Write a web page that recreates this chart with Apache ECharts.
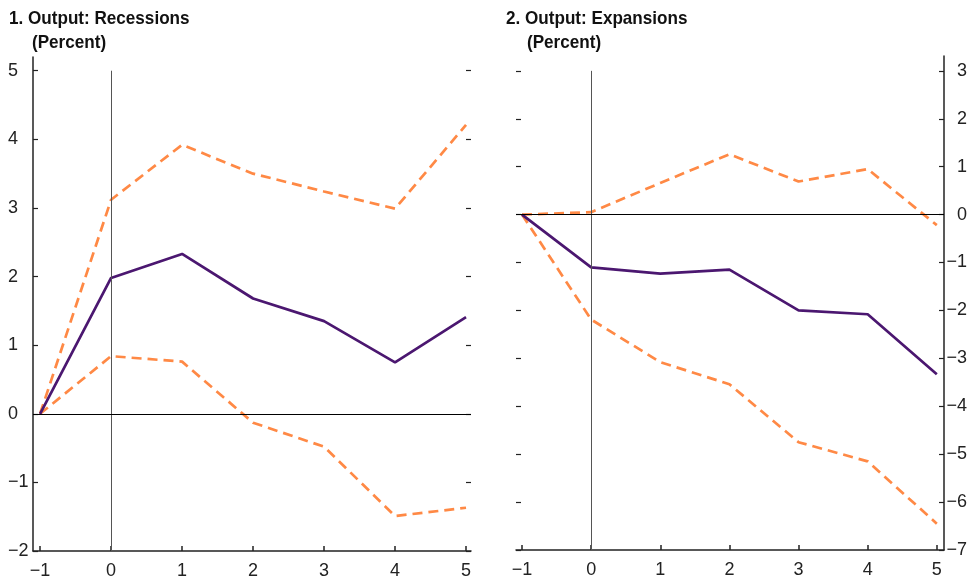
<!DOCTYPE html>
<html>
<head>
<meta charset="utf-8">
<script src="https://cdn.jsdelivr.net/npm/echarts@6/dist/echarts.min.js"></script>
<style>
html,body{margin:0;padding:0;background:#fff;}
#c{width:970px;height:583px;}
</style>
</head>
<body>
<div id="c"></div>
<script>
// ---- data ----
var horizons = [-1, 0, 1, 2, 3, 4, 5];
var recMid   = [0, 1.98, 2.33, 1.68, 1.35, 0.75, 1.41];
var recUpper = [0, 3.12, 3.92, 3.50, 3.24, 2.99, 4.21];
var recLower = [0, 0.84, 0.76, -0.13, -0.48, -1.49, -1.37];
var expMid   = [0, -1.10, -1.23, -1.15, -2.00, -2.08, -3.33];
var expUpper = [0, 0.05, 0.66, 1.26, 0.69, 0.95, -0.22];
var expLower = [0, -2.19, -3.08, -3.54, -4.75, -5.15, -6.45];
var recTicks = [-2, -1, 0, 1, 2, 3, 4, 5];
var expTicks = [-7, -6, -5, -4, -3, -2, -1, 0, 1, 2, 3];
var xTicks   = [-1, 0, 1, 2, 3, 4, 5];
var titles = ['1. Output: Recessions', '2. Output: Expansions'];
var unitLabel = '(Percent)';

var FONT = '"Liberation Sans Narrow", "Arial Narrow", "Liberation Sans", sans-serif';
var TFONT = '"Liberation Sans", Arial, sans-serif';
var PURPLE = '#4b1770';
var ORANGE = '#ff8945';
var AX = '#222';

function zip(xs, ys) { return xs.map(function (x, i) { return [x, ys[i]]; }); }
function fmt(v) { return String(v).replace('-', '\u2212'); }

var chart = echarts.init(document.getElementById('c'), null, {renderer: 'canvas'});

function xAxis(gi, min, max) {
  return {
    type: 'value', gridIndex: gi, min: min, max: max,
    axisLine: {show: true, onZero: false, lineStyle: {color: AX, width: 1.5}},
    axisTick: {show: true, inside: true, length: 5, customValues: xTicks, lineStyle: {color: AX, width: 1.5}},
    axisLabel: {show: true, customValues: xTicks, formatter: fmt, margin: 11, color: AX, fontFamily: FONT, fontSize: 18},
    splitLine: {show: false}
  };
}
function yAxisMain(gi, min, max, ticks, pos, align, margin) {
  return {
    type: 'value', gridIndex: gi, min: min, max: max, position: pos,
    axisLine: {show: true, onZero: false, lineStyle: {color: AX, width: 1.5}},
    axisTick: {show: true, inside: true, length: 5, customValues: ticks, lineStyle: {color: AX, width: 1.2}},
    axisLabel: {show: true, customValues: ticks, formatter: fmt, align: align, margin: margin, color: AX, fontFamily: FONT, fontSize: 18},
    splitLine: {show: false}
  };
}
function yAxisTicksOnly(gi, min, max, ticks, pos) {
  return {
    type: 'value', gridIndex: gi, min: min, max: max, position: pos,
    axisLine: {show: false, onZero: false},
    axisTick: {show: true, inside: true, length: 5, customValues: ticks, lineStyle: {color: AX, width: 1.2}},
    axisLabel: {show: false},
    splitLine: {show: false}
  };
}
function refLines(yMin, yMax) {
  return {
    silent: true, symbol: 'none', label: {show: false},
    animation: false,
    data: [
      [{coord: [0, yMin], lineStyle: {color: '#555', width: 1, type: 'solid'}}, {coord: [0, yMax]}],
      {yAxis: 0, lineStyle: {color: '#000', width: 1.2, type: 'solid'}}
    ]
  };
}
function lineSeries(xi, yi, ys, color, dashed, mark) {
  var s = {
    type: 'line', xAxisIndex: xi, yAxisIndex: yi, data: zip(horizons, ys),
    symbol: 'none', silent: true, animation: false,
    lineStyle: {color: color, width: 2.7, type: dashed ? [10, 6] : 'solid'},
    z: dashed ? 3 : 4
  };
  if (mark) s.markLine = mark;
  return s;
}
function titleText(txt, x, y) {
  return {
    type: 'text', x: x, y: y, scaleX: 0.9, silent: true,
    style: {text: txt, fill: '#111', font: 'bold 19px ' + TFONT, textVerticalAlign: 'top'}
  };
}

var option = {
  backgroundColor: '#fff',
  animation: false,
  graphic: [
    titleText(titles[0], 9, 9),
    titleText(unitLabel, 32, 33),
    titleText(titles[1], 506, 9),
    titleText(unitLabel, 527, 33)
  ],
  grid: [
    {left: 33, width: 438, top: 57, height: 494, containLabel: false},
    {left: 516, width: 429, top: 56, height: 494, containLabel: false}
  ],
  xAxis: [xAxis(0, -1.1, 5.07), xAxis(1, -1.087, 5.104)],
  yAxis: [
    yAxisMain(0, -2, 5.2, recTicks, 'left', 'left', 25),
    yAxisTicksOnly(0, -2, 5.2, recTicks, 'right'),
    yAxisMain(1, -7, 3.31, expTicks, 'right', 'right', 23),
    yAxisTicksOnly(1, -7, 3.31, expTicks, 'left')
  ],
  series: [
    lineSeries(0, 0, recUpper, ORANGE, true, refLines(-2, 5)),
    lineSeries(0, 0, recLower, ORANGE, true),
    lineSeries(0, 0, recMid, PURPLE, false),
    lineSeries(1, 2, expUpper, ORANGE, true, refLines(-7, 3)),
    lineSeries(1, 2, expLower, ORANGE, true),
    lineSeries(1, 2, expMid, PURPLE, false)
  ]
};
chart.setOption(option);
</script>
</body>
</html>
